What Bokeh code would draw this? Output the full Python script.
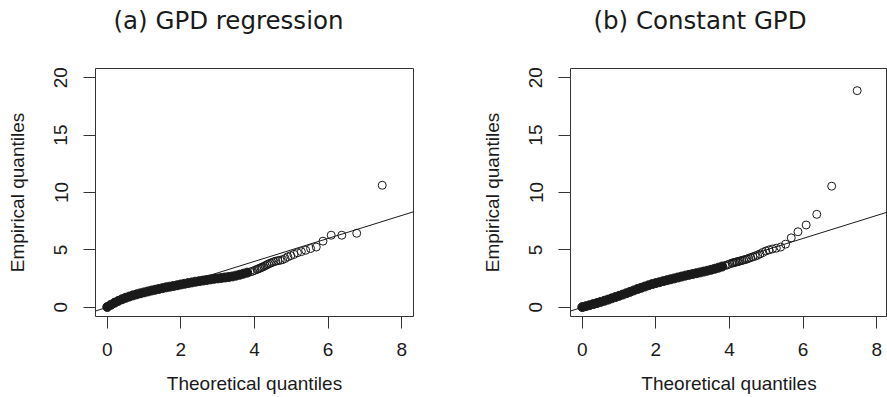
from bokeh.plotting import figure
from bokeh.layouts import row
from bokeh.models import Range1d, FixedTicker, Title, Slope
from bokeh.embed import file_html
from bokeh.resources import INLINE

# ---------------- data ----------------
titles = ["(a) GPD regression", "(b) Constant GPD"]
x_label = "Theoretical quantiles"
y_label = "Empirical quantiles"
x_ticks = [0, 2, 4, 6, 8]
y_ticks = [0, 5, 10, 15, 20]

# dense (overplotted) part of the Q-Q cloud
band_x = [0.0, 0.1, 0.2, 0.3, 0.4, 0.5, 0.6, 0.7, 0.8, 0.9,
          1.0, 1.1, 1.2, 1.3, 1.4, 1.5, 1.6, 1.7, 1.8, 1.9,
          2.0, 2.1, 2.2, 2.3, 2.4, 2.5, 2.6, 2.7, 2.8, 2.9,
          3.0, 3.1, 3.2, 3.3, 3.4, 3.5, 3.6, 3.7, 3.8]
a_band_y = [0.03, 0.22, 0.40, 0.56, 0.70, 0.83, 0.94, 1.04, 1.13, 1.22,
            1.30, 1.38, 1.46, 1.53, 1.60, 1.67, 1.74, 1.80, 1.86, 1.92,
            1.99, 2.05, 2.11, 2.17, 2.23, 2.28, 2.33, 2.38, 2.43, 2.48,
            2.52, 2.56, 2.60, 2.64, 2.69, 2.76, 2.84, 2.93, 3.02]
b_band_y = [0.02, 0.10, 0.19, 0.28, 0.37, 0.47, 0.57, 0.67, 0.78, 0.89,
            1.00, 1.11, 1.23, 1.35, 1.47, 1.59, 1.70, 1.81, 1.92, 2.02,
            2.11, 2.19, 2.28, 2.36, 2.44, 2.52, 2.60, 2.68, 2.76, 2.83,
            2.90, 2.97, 3.04, 3.11, 3.19, 3.27, 3.36, 3.45, 3.55]

# upper tail (individually visible points)
tail_x = [7.470, 6.777, 6.372, 6.084, 5.861, 5.678, 5.524, 5.391, 5.273, 5.167,
          5.072, 4.985, 4.905, 4.831, 4.762, 4.697, 4.637, 4.580, 4.526, 4.474,
          4.425, 4.379, 4.335, 4.292, 4.251, 4.212, 4.174, 4.138, 4.103, 4.069,
          4.004, 3.944, 3.886]
a_tail_y = [10.63, 6.45, 6.28, 6.28, 5.76, 5.25, 5.12, 4.97, 4.85, 4.75,
            4.62, 4.50, 4.40, 4.25, 4.15, 4.10, 4.06, 4.02, 3.97, 3.90,
            3.84, 3.77, 3.70, 3.63, 3.56, 3.50, 3.45, 3.40, 3.35, 3.30,
            3.22, 3.14, 3.08]
b_tail_y = [18.87, 10.55, 8.10, 7.17, 6.58, 6.05, 5.50, 5.25, 5.15, 5.08,
            5.00, 4.90, 4.78, 4.65, 4.55, 4.47, 4.40, 4.33, 4.27, 4.20,
            4.16, 4.12, 4.08, 4.04, 4.00, 3.97, 3.94, 3.91, 3.88, 3.85,
            3.78, 3.70, 3.64]

INK = "#1a1a1a"
TICK_FONT = "Liberation Sans"
TITLE_FONT = "DejaVu Sans"


def make_panel(title, by, ty, width, left, right, x_end, title_offset):
    p = figure(width=width, height=397, output_backend="svg", toolbar_location=None,
               x_range=Range1d(-0.32, x_end), y_range=Range1d(-0.8, 20.8),
               min_border_left=left, min_border_right=right,
               min_border_top=68, min_border_bottom=81)
    p.title = None
    # thin empty spacer between frame and title (keeps title high, frame at top=68)
    p.add_layout(Title(text=" ", standoff=31, text_font_size="1px"), "above")
    p.add_layout(Title(text=title, align="left", offset=title_offset, standoff=0,
                       text_font=TITLE_FONT, text_font_size="24.5px",
                       text_font_style="normal", text_color=INK), "above")
    p.grid.visible = False
    p.background_fill_color = "white"
    p.border_fill_color = "white"
    p.outline_line_color = "#333333"
    p.outline_line_width = 1

    for ax, ticks in ((p.xaxis, x_ticks), (p.yaxis, y_ticks)):
        ax.ticker = FixedTicker(ticks=ticks)
        ax.minor_tick_line_color = None
        ax.major_tick_in = 0
        ax.major_tick_out = 12
        ax.major_tick_line_color = "#333333"
        ax.axis_line_color = None
        ax.major_label_text_font = TICK_FONT
        ax.major_label_text_font_size = "19px"
        ax.major_label_text_color = INK
        ax.axis_label_text_font = TICK_FONT
        ax.axis_label_text_font_size = "19px"
        ax.axis_label_text_font_style = "normal"
        ax.axis_label_text_color = INK
    p.xaxis.axis_label = x_label
    p.yaxis.axis_label = y_label
    p.xaxis.major_label_standoff = 14
    p.xaxis.axis_label_standoff = 14
    p.yaxis.major_label_orientation = "vertical"
    p.yaxis.major_label_standoff = 16
    p.yaxis.axis_label_standoff = 24

    # dense band: heavily overplotted circles appear solid
    p.scatter(band_x, by, marker="circle", size=9, fill_color=INK,
              line_color=INK, line_width=1)
    # individually visible tail points (open circles)
    p.scatter(tail_x, ty, marker="circle", size=8, fill_color=None,
              line_color=INK, line_width=1)
    # reference line y = x
    p.add_layout(Slope(gradient=1, y_intercept=0, line_color=INK, line_width=1))
    return p


p1 = make_panel(titles[0], a_band_y, a_tail_y, 443, 95, 30, 8.32, 18)
p2 = make_panel(titles[1], b_band_y, b_tail_y, 444, 127, 0, -0.32 + 317 / 36.8, 23)

layout = row(p1, p2)
open("out.html", "w").write(file_html(layout, INLINE))
